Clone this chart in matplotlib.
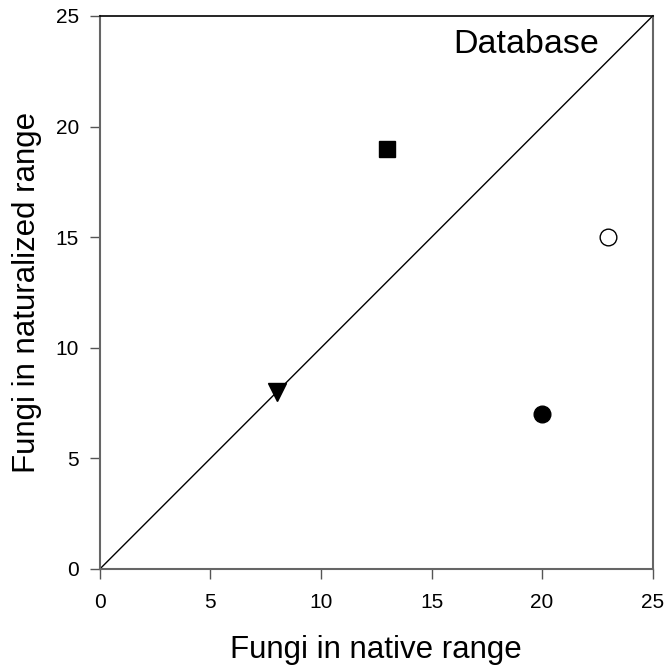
import matplotlib
matplotlib.use('Agg')
import matplotlib.pyplot as plt

plt.rcParams['font.family'] = ['Liberation Sans', 'DejaVu Sans']

# points: native range vs naturalized range
square_x, square_y = [13], [19]
open_circle_x, open_circle_y = [23], [15]
filled_circle_x, filled_circle_y = [20], [7]
triangle_x, triangle_y = [8], [8]
ticks = [0, 5, 10, 15, 20, 25]

fig = plt.figure(figsize=(6.66, 6.65), dpi=100)
ax = fig.add_axes([0.150, 0.1444, 0.830, 0.8316])

ax.plot([0, 25], [0, 25], color='black', linewidth=1)
ax.plot(square_x, square_y, 's', color='black', markersize=11)
ax.plot(open_circle_x, open_circle_y, 'o', markerfacecolor='white', markeredgecolor='black', markersize=12, markeredgewidth=1)
ax.plot(filled_circle_x, filled_circle_y, 'o', color='black', markersize=12)
ax.plot(triangle_x, triangle_y, 'v', color='black', markersize=12.5, clip_on=False)

ax.set_xlim(0, 25)
ax.set_ylim(0, 25)
ax.set_xticks(ticks)
ax.set_yticks(ticks)
ax.tick_params(direction='out', length=7, width=1, color='#555555', labelsize=15)
ax.tick_params(axis='x', pad=10)
ax.tick_params(axis='y', pad=8)

for side in ['left', 'bottom', 'right']:
    ax.spines[side].set_color('#666666')
    ax.spines[side].set_linewidth(1.5)
ax.spines['top'].set_color('black')
ax.spines['top'].set_linewidth(1.2)

ax.set_xlabel('Fungi in native range', fontsize=22.5, labelpad=17)
ax.set_ylabel('Fungi in naturalized range', fontsize=22.5, labelpad=10)
ax.text(0.904, 0.933, 'Database', transform=ax.transAxes, fontsize=24.5,
        ha='right', va='baseline')

fig.savefig('out.png', dpi=100)
